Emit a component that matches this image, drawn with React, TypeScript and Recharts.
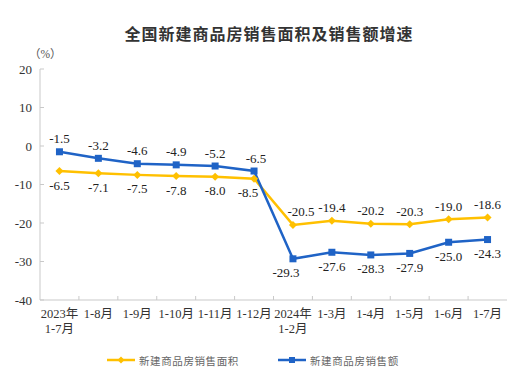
import React from "react";
import { LineChart, Line, XAxis, YAxis, LabelList } from "recharts";

const categories = [
  "2023年\n1-7月",
  "1-8月",
  "1-9月",
  "1-10月",
  "1-11月",
  "1-12月",
  "2024年\n1-2月",
  "1-3月",
  "1-4月",
  "1-5月",
  "1-6月",
  "1-7月",
];
const areaGrowth = [-6.5, -7.1, -7.5, -7.8, -8.0, -8.5, -20.5, -19.4, -20.2, -20.3, -19.0, -18.6];
const salesGrowth = [-1.5, -3.2, -4.6, -4.9, -5.2, -6.5, -29.3, -27.6, -28.3, -27.9, -25.0, -24.3];
const yTicks = [-40, -30, -20, -10, 0, 10, 20];

const AREA_NAME = "新建商品房销售面积";
const SALES_NAME = "新建商品房销售额";

const YELLOW = "#FFC000";
const BLUE = "#1F63C6";
const FRAME = "#C9C9C9";
const SERIF = "'Liberation Serif', 'Noto Sans CJK SC', serif";

const W = 518;
const H = 376;
const M = { top: 69, right: 11, left: 0, bottom: 0 };
const Y_AXIS_W = 40;
const HALF_BAND = (W - M.right - Y_AXIS_W) / categories.length / 2;

// labels nudged sideways around the big drop so they clear the lines
const areaLabelShift: Record<number, number> = { 5: -6, 6: 8 };
const salesLabelShift: Record<number, number> = { 5: 2, 6: -7 };

const data = categories.map((c, i) => ({
  name: c,
  area: areaGrowth[i],
  sales: salesGrowth[i],
}));

const XTick = (props: any) => {
  const { x, y, payload, index } = props;
  const lines = String(payload.value).split("\n");
  return (
    <g>
      {index < categories.length - 1 && (
        <line x1={x + HALF_BAND} x2={x + HALF_BAND} y1={y} y2={y - 4} stroke={FRAME} />
      )}
      {lines.map((l, i) => (
        <text key={i} x={x} y={y + 18 + i * 15} textAnchor="middle" fontSize={12.5} fill="#333" fontFamily={SERIF}>
          {l}
        </text>
      ))}
    </g>
  );
};

const YTick = (props: any) => {
  const { x, y, payload } = props;
  return (
    <g>
      <line x1={x + 8} x2={x + 12} y1={y} y2={y} stroke={FRAME} />
      <text x={x} y={y + 4.5} textAnchor="end" fontSize={13} fill="#333" fontFamily={SERIF}>
        {payload.value}
      </text>
    </g>
  );
};

// first six points label one side, 2024 points the other
const makeLabel = (aboveFirst: boolean, shift: Record<number, number>) => (props: any) => {
  const { x, y, value, index } = props;
  const above = index < 6 ? aboveFirst : !aboveFirst;
  return (
    <text
      x={x + (shift[index] || 0)}
      y={above ? y - 8.5 : y + 18.5}
      textAnchor="middle"
      fontSize={13}
      fill="#222"
      fontFamily={SERIF}
    >
      {Number(value).toFixed(1)}
    </text>
  );
};

const LegendItem = ({ color, label, square }: { color: string; label: string; square: boolean }) => (
  <span style={{ display: "inline-flex", alignItems: "center" }}>
    <svg width={28} height={8}>
      <line x1={0} x2={28} y1={4} y2={4} stroke={color} strokeWidth={2.5} />
      {square ? (
        <rect x={11} y={1} width={6} height={6} fill={color} />
      ) : (
        <polygon points="14,0.5 17.5,4 14,7.5 10.5,4" fill={color} />
      )}
    </svg>
    <span style={{ marginLeft: 4, fontSize: 10.5, letterSpacing: 0.6, color: "#666" }}>{label}</span>
  </span>
);

export default function App() {
  return (
    <div
      style={{
        position: "fixed",
        left: 0,
        top: 0,
        width: W,
        height: H,
        background: "#fff",
        fontFamily: "'Noto Sans CJK SC', sans-serif",
      }}
    >
      <div
        style={{
          position: "absolute",
          top: 21,
          left: 0,
          width: 538,
          textAlign: "center",
          fontSize: 16,
          fontWeight: 700,
          letterSpacing: 1,
          color: "#333",
        }}
      >
        全国新建商品房销售面积及销售额增速
      </div>
      <div style={{ position: "absolute", top: 45, left: 29, fontSize: 11.5, color: "#555", fontFamily: SERIF }}>
        （%）
      </div>
      <LineChart width={W} height={H} data={data} margin={M}>
        <XAxis
          dataKey="name"
          scale="band"
          interval={0}
          height={76}
          tickSize={0}
          tickMargin={0}
          stroke={FRAME}
          tick={<XTick />}
          tickLine={false}
        />
        <XAxis
          xAxisId="top"
          orientation="top"
          dataKey="name"
          scale="band"
          height={0}
          tick={false}
          tickLine={false}
          stroke={FRAME}
        />
        <YAxis
          domain={[-40, 20]}
          ticks={yTicks}
          interval={0}
          width={Y_AXIS_W}
          tickSize={0}
          tickMargin={8}
          stroke={FRAME}
          tick={<YTick />}
          tickLine={false}
        />
        <YAxis yAxisId="right" orientation="right" width={0} tick={false} tickLine={false} stroke={FRAME} domain={[-40, 20]} />
        <Line
          dataKey="area"
          name={AREA_NAME}
          stroke={YELLOW}
          strokeWidth={2.5}
          isAnimationActive={false}
          dot={(p: any) => (
            <polygon
              key={p.index}
              points={`${p.cx},${p.cy - 4} ${p.cx + 4},${p.cy} ${p.cx},${p.cy + 4} ${p.cx - 4},${p.cy}`}
              fill={YELLOW}
            />
          )}
        >
          <LabelList dataKey="area" content={makeLabel(false, areaLabelShift)} />
        </Line>
        <Line
          dataKey="sales"
          name={SALES_NAME}
          stroke={BLUE}
          strokeWidth={2.5}
          isAnimationActive={false}
          dot={(p: any) => <rect key={p.index} x={p.cx - 3.5} y={p.cy - 3.5} width={7} height={7} fill={BLUE} />}
        >
          <LabelList dataKey="sales" content={makeLabel(true, salesLabelShift)} />
        </Line>
      </LineChart>
      <div style={{ position: "absolute", top: 345, left: 107 }}>
        <LegendItem color={YELLOW} label={AREA_NAME} square={false} />
      </div>
      <div style={{ position: "absolute", top: 345, left: 278 }}>
        <LegendItem color={BLUE} label={SALES_NAME} square={true} />
      </div>
    </div>
  );
}
